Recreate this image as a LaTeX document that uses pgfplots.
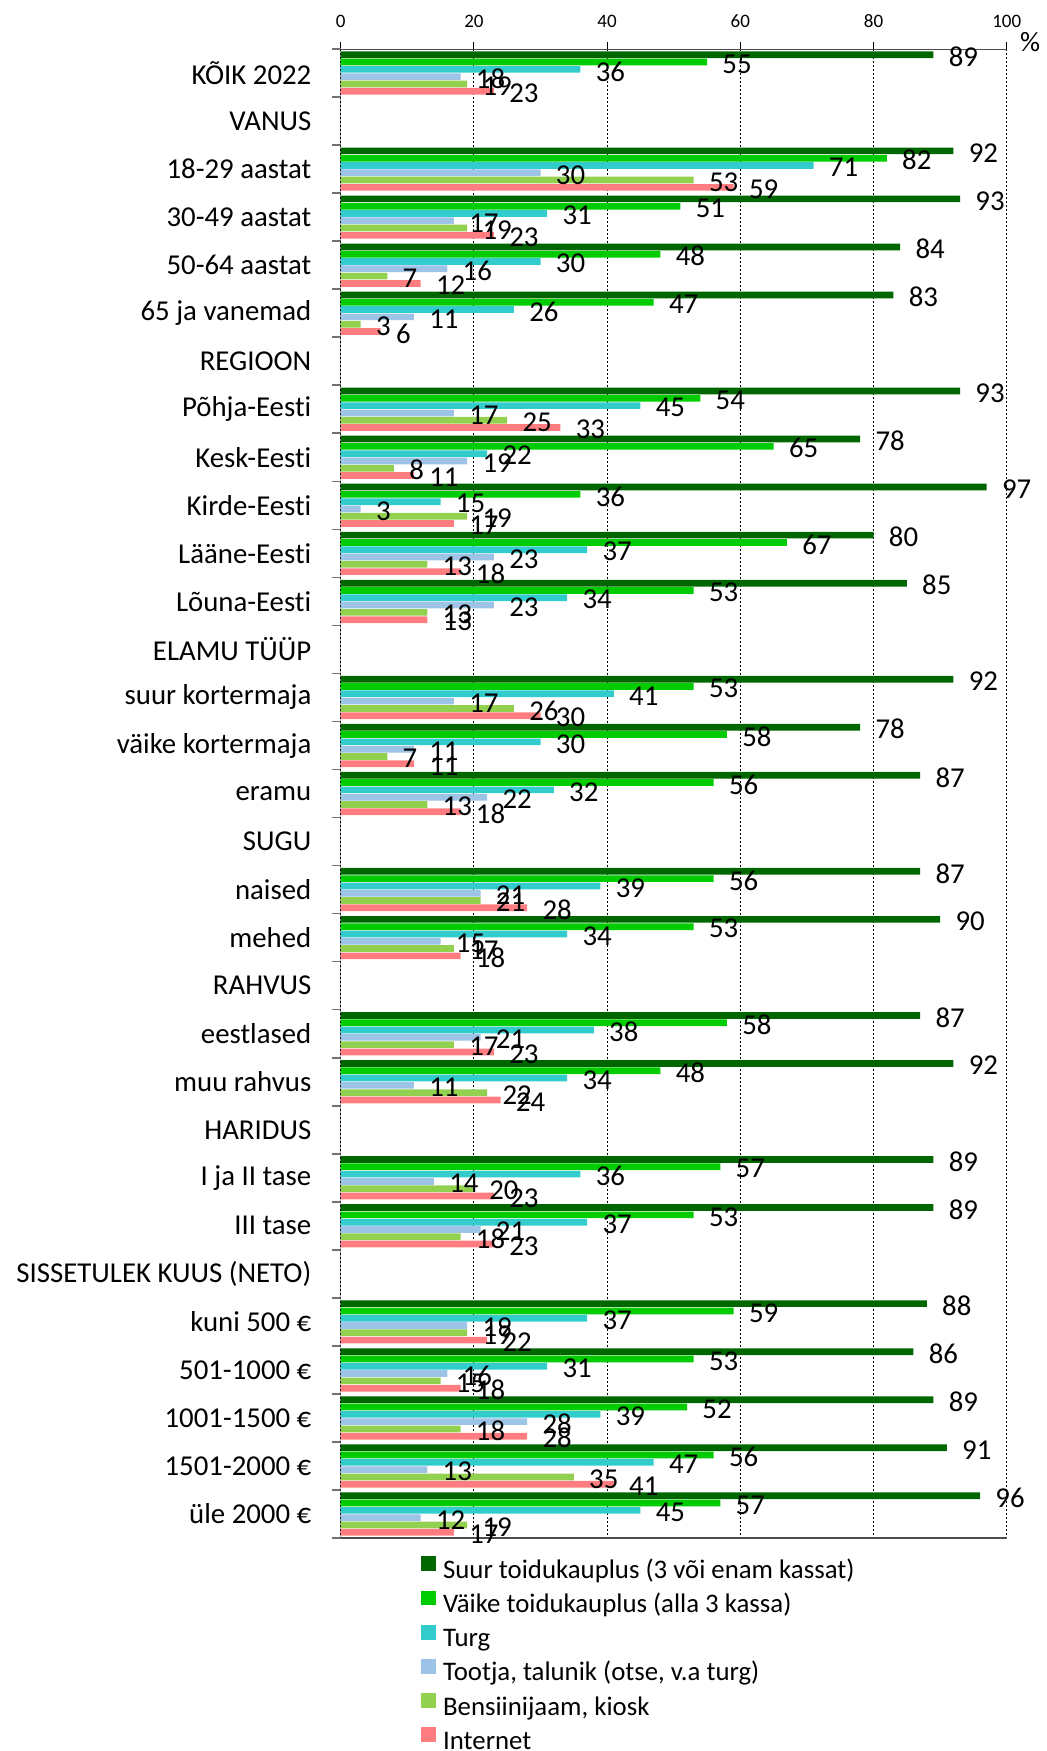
\documentclass[border=0pt]{standalone}
\usepackage{pgfplots}
\usepackage{pgfplotstable}
\pgfplotsset{compat=1.18}
\usepackage{fontspec}
\setmainfont[Ligatures={NoCommon}]{Carlito}
\definecolor{cA}{RGB}{0,102,0}
\definecolor{cB}{RGB}{0,204,0}
\definecolor{cC}{RGB}{51,204,204}
\definecolor{cD}{RGB}{157,195,230}
\definecolor{cE}{RGB}{146,208,80}
\definecolor{cF}{RGB}{255,124,128}
\pgfplotstableread{
row A B C D E F
0 89 55 36 18 19 23
2 92 82 71 30 53 59
3 93 51 31 17 19 23
4 84 48 30 16 7 12
5 83 47 26 11 3 6
7 93 54 45 17 25 33
8 78 65 22 19 8 11
9 97 36 15 3 19 17
10 80 67 37 23 13 18
11 85 53 34 23 13 13
13 92 53 41 17 26 30
14 78 58 30 11 7 11
15 87 56 32 22 13 18
17 87 56 39 21 21 28
18 90 53 34 15 17 18
20 87 58 38 21 17 23
21 92 48 34 11 22 24
23 89 57 36 14 20 23
24 89 53 37 21 18 23
26 88 59 37 19 19 22
27 86 53 31 16 15 18
28 89 52 39 28 18 28
29 91 56 47 13 35 41
30 96 57 45 12 19 17
}\datatable
\begin{document}
\begin{tikzpicture}
\useasboundingbox (0pt,0pt) rectangle (523pt,-875.5pt);
\begin{axis}[
  at={(170.35pt,-24.5pt)}, anchor=north west,
  scale only axis, width=333pt, height=744.5pt,
  xbar, bar width=3.35pt,
  xmin=0, xmax=100, ymin=-0.5, ymax=30.5, y dir=reverse,
  /pgf/number format/assume math mode=true,
  xtick={0,20,...,100}, xtick pos=right, xticklabel pos=right,
  xticklabel style={font=\fontsize{9.5}{9.5}\selectfont, inner sep=0pt, yshift=7pt},
  ytick={0,...,30}, ytick pos=left,
  minor ytick={-0.5,0.5,...,30.5},
  yticklabels={KÕIK 2022, VANUS, 18-29 aastat, 30-49 aastat, 50-64 aastat, 65 ja vanemad, REGIOON\hspace{3pt}, Põhja-Eesti, Kesk-Eesti, Kirde-Eesti, Lääne-Eesti, Lõuna-Eesti, ELAMU TÜÜP, suur kortermaja, väike kortermaja, eramu, SUGU, naised, mehed, RAHVUS, eestlased, muu rahvus, HARIDUS, I ja II tase, III tase, SISSETULEK KUUS (NETO), kuni 500 €\hspace{3pt}, 501-1000 €\hspace{3pt}, 1001-1500 €\hspace{3pt}, 1501-2000 €\hspace{6.5pt}, üle 2000 €},
  yticklabel style={font=\fontsize{14.4}{14.4}\selectfont, inner sep=0pt, xshift=-11pt},
  tick align=outside,
  major tick length=3.5pt, minor tick length=4.5pt,
  major y tick style={draw=none},
  minor y tick style={black!55, line width=0.8pt},
  major x tick style={black, line width=0.4pt},
  xmajorgrids,
  major x grid style={black, line width=0.4pt, dash pattern=on 1.2pt off 0.8pt},
  axis line style={draw=none},
  nodes near coords,
  nodes near coords style={anchor=west, inner sep=0pt, xshift=7.5pt, yshift=-1pt, font=\fontsize{14.4}{14.4}\selectfont, text=black},
  legend cell align=left,
  legend image code/.code={\fill[#1] (0pt,0.6pt) rectangle (7.35pt,7.95pt);},
  legend style={at={(axis description cs:0.1206,0)}, anchor=north west, yshift=-9pt,
    draw=none, fill=none, inner sep=0pt, font=\fontsize{13.4}{13.4}\selectfont,
    row sep=3.15pt, column sep=3.5pt,
    nodes={inner sep=0pt, text height=9pt, text depth=3pt}},
]
\addplot[fill=cA, draw=none, bar shift=9.125pt] table[x=A, y=row] {\datatable};
\addplot[fill=cB, draw=none, bar shift=5.475pt] table[x=B, y=row] {\datatable};
\addplot[fill=cC, draw=none, bar shift=1.825pt] table[x=C, y=row] {\datatable};
\addplot[fill=cD, draw=none, bar shift=-1.825pt] table[x=D, y=row] {\datatable};
\addplot[fill=cE, draw=none, bar shift=-5.475pt] table[x=E, y=row] {\datatable};
\addplot[fill=cF, draw=none, bar shift=-9.125pt] table[x=F, y=row] {\datatable};
\legend{Suur toidukauplus (3 või enam kassat), Väike toidukauplus (alla 3 kassa), Turg, {Tootja, talunik (otse, v.a turg)}, {Bensiinijaam, kiosk}, Internet}
\draw[black, line width=0.6pt] (axis description cs:0,0) -- (axis description cs:0,1);
\draw[black!70, line width=1.1pt] (axis description cs:0,1) -- (axis description cs:1,1);
\draw[black!70, line width=0.6pt] (axis description cs:0,0) -- (axis description cs:1,0);
\end{axis}
\node[font=\fontsize{14}{14}\selectfont, inner sep=0pt] at (515pt,-21pt) {\%};
\end{tikzpicture}
\end{document}
